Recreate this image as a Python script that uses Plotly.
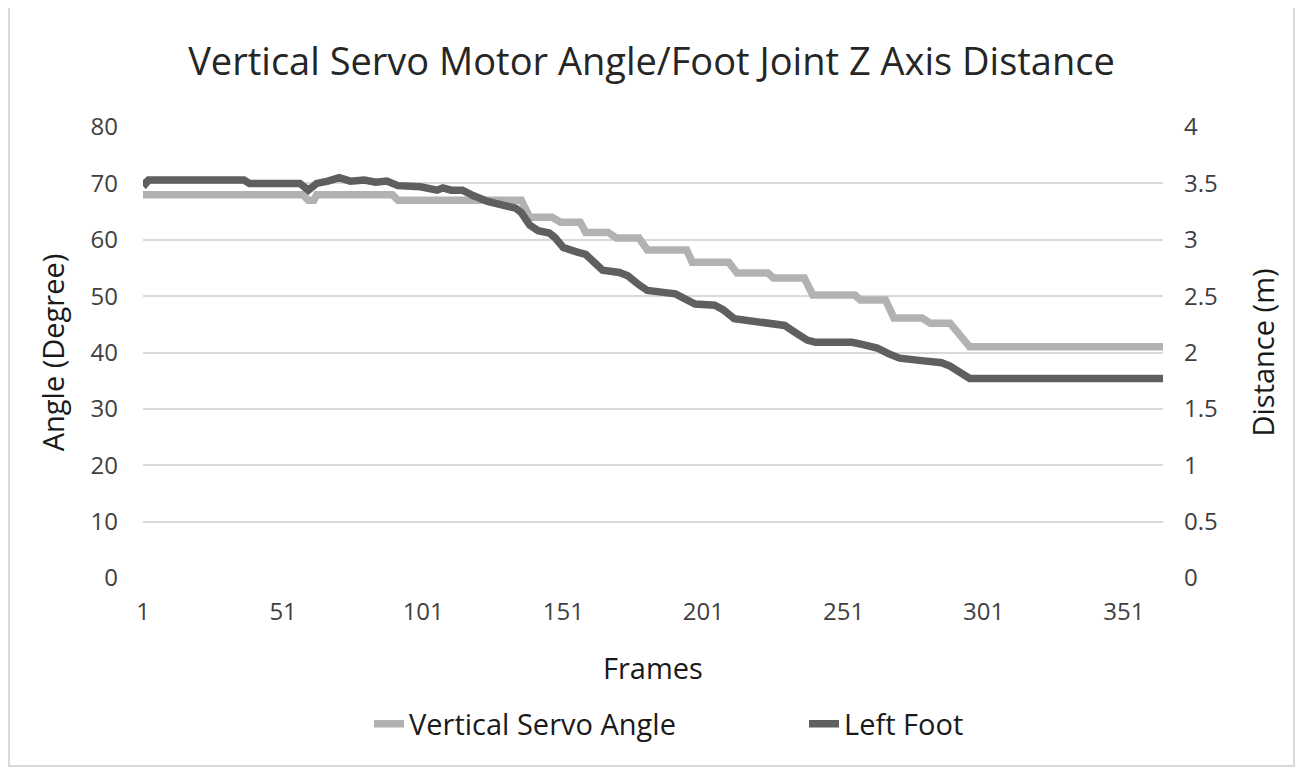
import plotly.graph_objects as go

# ---- data ----
servo_frames = [1, 58, 60, 62, 63, 90, 92, 136, 139, 147, 150, 157, 159, 167, 170, 178, 181,
                195, 197, 210, 213, 224, 226, 237, 240, 255, 257, 266, 269, 279, 282, 289, 296, 365]
servo_angle = [68, 68, 67, 67, 68, 68, 67, 67, 64, 64, 63.1, 63.1, 61.3, 61.3, 60.3, 60.3, 58.2,
               58.2, 56, 56, 54.1, 54.1, 53.2, 53.2, 50.2, 50.2, 49.3, 49.3, 46.1, 46.1, 45.2, 45.2, 41, 41]

foot_frames = [1, 2, 3, 37, 39, 57, 60, 63, 67, 71, 75, 80, 84, 88, 92, 100, 106, 108, 111, 115,
               119, 124, 129, 134, 136, 139, 142, 146, 148, 151, 156, 159, 162, 165, 171, 174, 178,
               181, 191, 194, 198, 205, 208, 212, 220, 227, 230, 233, 238, 241, 254, 258, 263, 267,
               271, 278, 286, 289, 292, 296, 365]
foot_distance = [3.53, 3.50, 3.53, 3.53, 3.50, 3.50, 3.44, 3.50, 3.52, 3.55, 3.52, 3.53, 3.51, 3.52,
                 3.48, 3.47, 3.44, 3.46, 3.44, 3.44, 3.39, 3.34, 3.31, 3.28, 3.24, 3.13, 3.08, 3.06,
                 3.02, 2.93, 2.89, 2.87, 2.80, 2.73, 2.71, 2.68, 2.60, 2.55, 2.52, 2.48, 2.43, 2.42,
                 2.38, 2.30, 2.28, 2.26, 2.24, 2.19, 2.11, 2.09, 2.09, 2.07, 2.04, 1.99, 1.95, 1.93,
                 1.91, 1.88, 1.84, 1.77, 1.77]

x_ticks = [1, 51, 101, 151, 201, 251, 301, 351]
left_ticks = [0, 10, 20, 30, 40, 50, 60, 70, 80]
right_ticks = [0, 0.5, 1, 1.5, 2, 2.5, 3, 3.5, 4]
right_labels = ["0", "0.5", "1", "1.5", "2", "2.5", "3", "3.5", "4"]

FONT = "Open Sans, Noto Sans, sans-serif"
TXT = "#404040"
DARKTXT = "#1a1a1a"
LIGHT = "#b2b2b2"
DARK = "#5f5f5f"
GRID = "#d9d9d9"

OFF = 8  # page body margin
W, H = 1303 - 2 * OFF, 775 - 2 * OFF
L, T = 143 - OFF, 127 - OFF
pw, ph = 1020, 451
R, B = W - L - pw, H - T - ph


def px_x(p):
    return (p - OFF - L) / pw


def px_y(p):
    return (T + ph - (p - OFF)) / ph


fig = go.Figure()
fig.add_trace(go.Scatter(x=servo_frames, y=servo_angle, mode="lines", name="Vertical Servo Angle",
                         line=dict(color=LIGHT, width=7.5), yaxis="y"))
fig.add_trace(go.Scatter(x=foot_frames, y=foot_distance, mode="lines", name="Left Foot",
                         line=dict(color=DARK, width=7.5), yaxis="y2"))

fig.add_shape(type="rect", xref="paper", yref="paper",
              x0=px_x(9), x1=px_x(1294), y0=px_y(766), y1=px_y(7),
              line=dict(color=GRID, width=2), fillcolor="rgba(0,0,0,0)", layer="below")

fig.update_layout(
    width=W, height=H,
    margin=dict(l=L, r=R, t=T, b=B),
    paper_bgcolor="white", plot_bgcolor="white",
    font=dict(family=FONT, color=TXT, size=24),
    title=dict(text="Vertical Servo Motor Angle/Foot Joint Z Axis Distance",
               x=0.5, xanchor="center", y=1 - (62 - OFF) / H, yanchor="middle",
               font=dict(size=38, color="#262626", family=FONT)),
    xaxis=dict(range=[1, 365], tickvals=x_ticks, ticktext=[str(v) for v in x_ticks],
               showgrid=False, zeroline=False, showline=False, ticks="",
               ticklabelstandoff=17, tickfont=dict(size=24, color=TXT),
               title=dict(text="Frames", standoff=32, font=dict(size=29, color=DARKTXT))),
    yaxis=dict(range=[0, 80], tickvals=left_ticks, showgrid=True, gridcolor=GRID, gridwidth=2,
               zeroline=False, showline=False, ticks="", ticklabelstandoff=24,
               tickfont=dict(size=24, color=TXT),
               title=dict(text="Angle (Degree)", standoff=17, font=dict(size=29, color=DARKTXT))),
    yaxis2=dict(range=[0, 4], tickvals=right_ticks, ticktext=right_labels, overlaying="y",
                side="right", showgrid=False, zeroline=False, showline=False, ticks="",
                ticklabelstandoff=20, tickfont=dict(size=24, color=TXT),
                title=dict(text="Distance (m)", standoff=36, font=dict(size=29, color=DARKTXT))),
    legend=dict(orientation="h", x=px_x(369), xanchor="left", y=px_y(724), yanchor="middle",
                font=dict(size=29, color=DARKTXT), bgcolor="rgba(0,0,0,0)",
                entrywidth=390, entrywidthmode="pixels"),
    showlegend=True,
)

fig.write_html("out.html")
